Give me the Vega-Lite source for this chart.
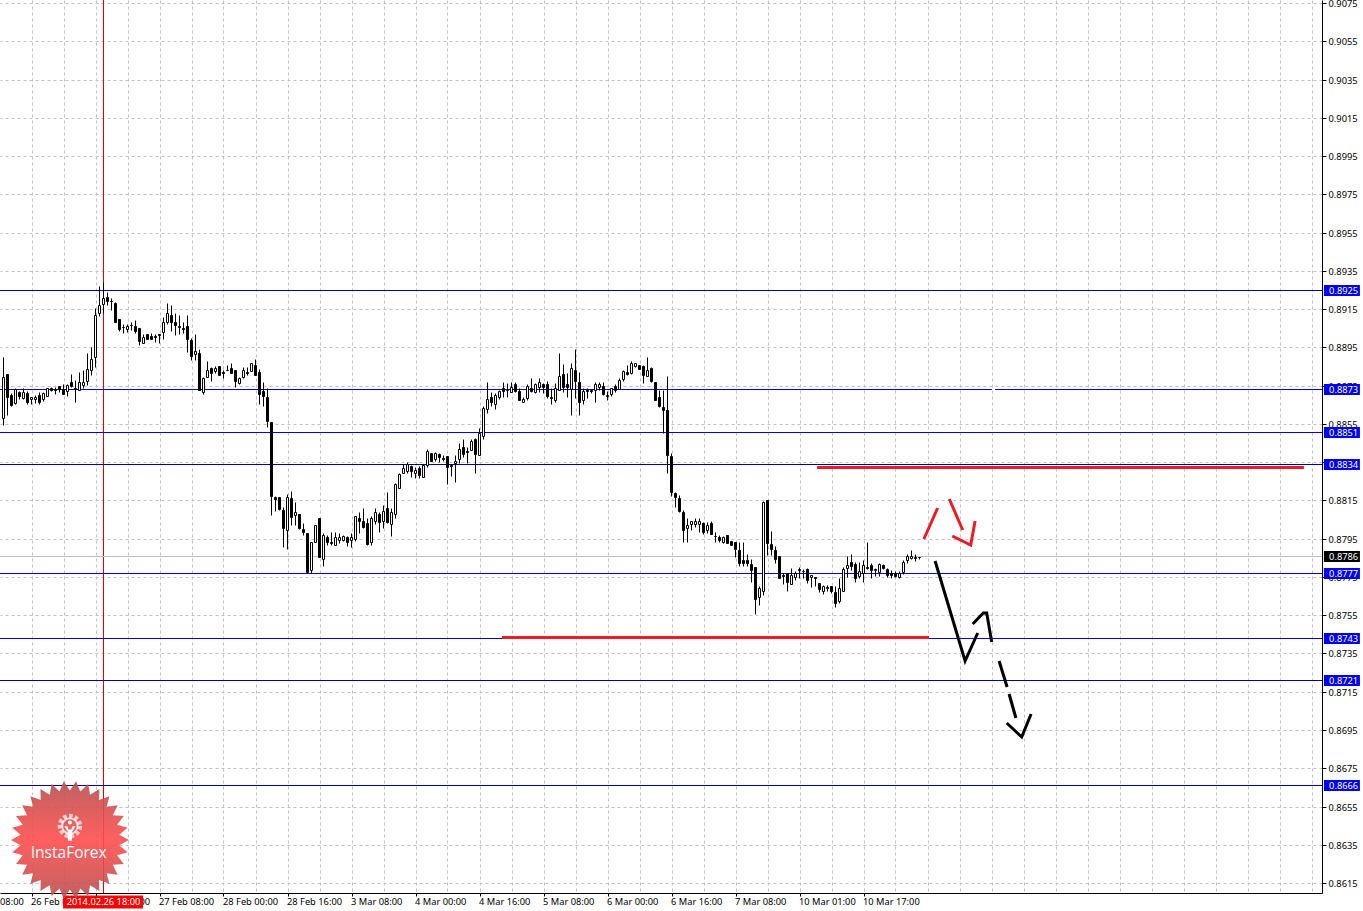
{"$schema":"https://vega.github.io/schema/vega-lite/v6.json","width":1322,"height":893,"autosize":{"type":"none"},"padding":{"left":0,"top":0,"right":41,"bottom":18},"background":"white","view":{"stroke":null},
"datasets":{
"levels":[{"price":0.8925,"from":-0.875,"to":329.625,"kind":"major"},{"price":0.8873,"from":-0.875,"to":247.1,"kind":"minor"},{"price":0.8873,"from":247.9,"to":329.625,"kind":"minor"},{"price":0.8851,"from":-0.875,"to":329.625,"kind":"minor"},{"price":0.8834,"from":-0.875,"to":329.625,"kind":"major"},{"price":0.8786,"from":-0.875,"to":329.625,"kind":"bid"},{"price":0.8777,"from":-0.875,"to":329.625,"kind":"minor"},{"price":0.8743,"from":-0.875,"to":329.625,"kind":"minor"},{"price":0.8721,"from":-0.875,"to":329.625,"kind":"major"},{"price":0.8666,"from":-0.875,"to":329.625,"kind":"major"}],
"tags":[{"price":0.8925,"tag":"0.8925"},{"price":0.8873,"tag":"0.8873"},{"price":0.8851,"tag":"0.8851"},{"price":0.8834,"tag":"0.8834"},{"price":0.8786,"tag":"0.8786"},{"price":0.8777,"tag":"0.8777"},{"price":0.8743,"tag":"0.8743"},{"price":0.8721,"tag":"0.8721"},{"price":0.8666,"tag":"0.8666"}],
"zones":[{"price":0.88325,"from":203.4,"to":325.1},{"price":0.87436,"from":124.6,"to":231.4}],
"sketch":[
{"seg":"r1","tone":"red","n":0,"bar":230.1,"price":0.87949},{"seg":"r1","tone":"red","n":1,"bar":233.55,"price":0.88111},
{"seg":"r2","tone":"red","n":0,"bar":236.45,"price":0.88156},{"seg":"r2","tone":"red","n":1,"bar":239.8,"price":0.87996},
{"seg":"r3","tone":"red","n":0,"bar":237.2,"price":0.87964},{"seg":"r3","tone":"red","n":1,"bar":241.8,"price":0.87917},{"seg":"r3","tone":"red","n":2,"bar":242.9,"price":0.88044},
{"seg":"b1","tone":"black","n":0,"bar":232.9,"price":0.87834},{"seg":"b1","tone":"black","n":1,"bar":240.4,"price":0.87311},{"seg":"b1","tone":"black","n":2,"bar":243.55,"price":0.87459},
{"seg":"b2","tone":"black","n":0,"bar":242.3,"price":0.87503},{"seg":"b2","tone":"black","n":1,"bar":244.95,"price":0.87563},{"seg":"b2","tone":"black","n":2,"bar":245.8,"price":0.87563},{"seg":"b2","tone":"black","n":3,"bar":247.05,"price":0.87412},
{"seg":"b3","tone":"black","n":0,"bar":248.9,"price":0.87311},{"seg":"b3","tone":"black","n":1,"bar":250.9,"price":0.87177},
{"seg":"b4","tone":"black","n":0,"bar":251.4,"price":0.87138},{"seg":"b4","tone":"black","n":1,"bar":253.1,"price":0.87011},
{"seg":"b5","tone":"black","n":0,"bar":250.8,"price":0.86985},{"seg":"b5","tone":"black","n":1,"bar":254.55,"price":0.86915},{"seg":"b5","tone":"black","n":2,"bar":256.9,"price":0.87034}],
"candles":[
{"bar":0,"open":0.88579,"high":0.88898,"low":0.88544,"close":0.88797},{"bar":1,"open":0.88811,"high":0.88811,"low":0.88596,"close":0.88689},{"bar":2,"open":0.88699,"high":0.88713,"low":0.88643,"close":0.88647},{"bar":3,"open":0.88657,"high":0.88736,"low":0.88654,"close":0.88731},{"bar":4,"open":0.88718,"high":0.88722,"low":0.88678,"close":0.88697},{"bar":5,"open":0.88683,"high":0.88736,"low":0.88678,"close":0.88718},{"bar":6,"open":0.8871,"high":0.88722,"low":0.88654,"close":0.88666},{"bar":7,"open":0.88678,"high":0.88692,"low":0.88654,"close":0.88689},{"bar":8,"open":0.88678,"high":0.88701,"low":0.88661,"close":0.88689},{"bar":9,"open":0.88699,"high":0.88718,"low":0.88654,"close":0.88666},
{"bar":10,"open":0.88678,"high":0.88718,"low":0.88671,"close":0.8871},{"bar":11,"open":0.88697,"high":0.88736,"low":0.88697,"close":0.88736},{"bar":12,"open":0.88736,"high":0.88744,"low":0.88722,"close":0.88727},{"bar":13,"open":0.88734,"high":0.88741,"low":0.88706,"close":0.88729},{"bar":14,"open":0.88746,"high":0.88748,"low":0.88718,"close":0.88732},{"bar":15,"open":0.88731,"high":0.88757,"low":0.88704,"close":0.88708},{"bar":16,"open":0.88722,"high":0.88758,"low":0.88697,"close":0.88755},{"bar":17,"open":0.88767,"high":0.88811,"low":0.88743,"close":0.88746},{"bar":18,"open":0.88736,"high":0.88779,"low":0.88666,"close":0.88732},{"bar":19,"open":0.88727,"high":0.88819,"low":0.88725,"close":0.88767},
{"bar":20,"open":0.88755,"high":0.88832,"low":0.88739,"close":0.88767},{"bar":21,"open":0.88776,"high":0.88919,"low":0.88753,"close":0.88839},{"bar":22,"open":0.8883,"high":0.8895,"low":0.88807,"close":0.88887},{"bar":23,"open":0.88898,"high":0.89154,"low":0.88849,"close":0.89117},{"bar":24,"open":0.89128,"high":0.89271,"low":0.89114,"close":0.8917},{"bar":25,"open":0.89178,"high":0.89293,"low":0.89131,"close":0.89206},{"bar":26,"open":0.89215,"high":0.89238,"low":0.89171,"close":0.89194},{"bar":27,"open":0.89194,"high":0.89206,"low":0.89145,"close":0.8919},{"bar":28,"open":0.89182,"high":0.89189,"low":0.89084,"close":0.89084},{"bar":29,"open":0.89098,"high":0.89098,"low":0.89035,"close":0.89046},
{"bar":30,"open":0.89058,"high":0.89072,"low":0.89027,"close":0.89055},{"bar":31,"open":0.89048,"high":0.89072,"low":0.89032,"close":0.8906},{"bar":32,"open":0.89069,"high":0.89081,"low":0.89041,"close":0.89065},{"bar":33,"open":0.89062,"high":0.89093,"low":0.89027,"close":0.89035},{"bar":34,"open":0.89049,"high":0.89049,"low":0.88964,"close":0.88983},{"bar":35,"open":0.88974,"high":0.89018,"low":0.88974,"close":0.89006},{"bar":36,"open":0.89018,"high":0.89018,"low":0.88994,"close":0.88995},{"bar":37,"open":0.89009,"high":0.89023,"low":0.88992,"close":0.88995},{"bar":38,"open":0.89009,"high":0.89018,"low":0.8898,"close":0.89006},{"bar":39,"open":0.89018,"high":0.89018,"low":0.88973,"close":0.89015},
{"bar":40,"open":0.89028,"high":0.8911,"low":0.88994,"close":0.89081},{"bar":41,"open":0.89082,"high":0.8918,"low":0.89072,"close":0.89128},{"bar":42,"open":0.89121,"high":0.89171,"low":0.89035,"close":0.89084},{"bar":43,"open":0.89081,"high":0.89128,"low":0.89015,"close":0.89069},{"bar":44,"open":0.89062,"high":0.89117,"low":0.89018,"close":0.89058},{"bar":45,"open":0.89051,"high":0.89082,"low":0.89027,"close":0.89048},{"bar":46,"open":0.89062,"high":0.89119,"low":0.88927,"close":0.88995},{"bar":47,"open":0.88988,"high":0.88997,"low":0.88884,"close":0.88905},{"bar":48,"open":0.88917,"high":0.8902,"low":0.88884,"close":0.88929},{"bar":49,"open":0.8892,"high":0.8894,"low":0.88727,"close":0.88727},
{"bar":50,"open":0.88718,"high":0.88793,"low":0.88706,"close":0.88788},{"bar":51,"open":0.88797,"high":0.88879,"low":0.88795,"close":0.8883},{"bar":52,"open":0.8884,"high":0.88849,"low":0.88774,"close":0.88818},{"bar":53,"open":0.88828,"high":0.88852,"low":0.88814,"close":0.88842},{"bar":54,"open":0.88851,"high":0.88852,"low":0.88805,"close":0.88805},{"bar":55,"open":0.88821,"high":0.88832,"low":0.88792,"close":0.88818},{"bar":56,"open":0.88833,"high":0.88858,"low":0.8883,"close":0.8883},{"bar":57,"open":0.8884,"high":0.88866,"low":0.88814,"close":0.88816},{"bar":58,"open":0.88832,"high":0.88832,"low":0.88744,"close":0.88776},{"bar":59,"open":0.88765,"high":0.88797,"low":0.88757,"close":0.88788},
{"bar":60,"open":0.88797,"high":0.88849,"low":0.88792,"close":0.8883},{"bar":61,"open":0.88819,"high":0.88846,"low":0.88805,"close":0.88816},{"bar":62,"open":0.88828,"high":0.8887,"low":0.88828,"close":0.88866},{"bar":63,"open":0.88858,"high":0.88889,"low":0.88805,"close":0.88805},{"bar":64,"open":0.88819,"high":0.88835,"low":0.88654,"close":0.88706},{"bar":65,"open":0.88724,"high":0.88767,"low":0.88643,"close":0.88697},{"bar":66,"open":0.88692,"high":0.88736,"low":0.88535,"close":0.88567},{"bar":67,"open":0.88558,"high":0.88558,"low":0.88074,"close":0.88173},{"bar":68,"open":0.88166,"high":0.88173,"low":0.88096,"close":0.88156},{"bar":69,"open":0.88166,"high":0.88169,"low":0.881,"close":0.88107},
{"bar":70,"open":0.881,"high":0.88117,"low":0.87905,"close":0.88006},{"bar":71,"open":0.87997,"high":0.88183,"low":0.87896,"close":0.88166},{"bar":72,"open":0.88163,"high":0.88199,"low":0.88021,"close":0.88065},{"bar":73,"open":0.88075,"high":0.8814,"low":0.88021,"close":0.88088},{"bar":74,"open":0.88079,"high":0.88079,"low":0.88002,"close":0.88006},{"bar":75,"open":0.88001,"high":0.8803,"low":0.87969,"close":0.87983},{"bar":76,"open":0.87978,"high":0.87981,"low":0.87774,"close":0.87774},{"bar":77,"open":0.87786,"high":0.87931,"low":0.87769,"close":0.87931},{"bar":78,"open":0.87934,"high":0.88021,"low":0.87931,"close":0.8802},{"bar":79,"open":0.88056,"high":0.88056,"low":0.87852,"close":0.87856},
{"bar":80,"open":0.87845,"high":0.87978,"low":0.87807,"close":0.87967},{"bar":81,"open":0.87957,"high":0.87969,"low":0.87917,"close":0.87933},{"bar":82,"open":0.87933,"high":0.87987,"low":0.87917,"close":0.87929},{"bar":83,"open":0.87919,"high":0.87987,"low":0.87917,"close":0.87957},{"bar":84,"open":0.87945,"high":0.87978,"low":0.87926,"close":0.87959},{"bar":85,"open":0.87944,"high":0.8797,"low":0.8794,"close":0.87964},{"bar":86,"open":0.87958,"high":0.87964,"low":0.87912,"close":0.87935},{"bar":87,"open":0.87944,"high":0.87978,"low":0.87909,"close":0.87958},{"bar":88,"open":0.87947,"high":0.88071,"low":0.8794,"close":0.88069},{"bar":89,"open":0.88059,"high":0.88092,"low":0.87978,"close":0.88045},
{"bar":90,"open":0.88041,"high":0.88109,"low":0.88005,"close":0.88013},{"bar":91,"open":0.88031,"high":0.88057,"low":0.87917,"close":0.87923},{"bar":92,"open":0.87935,"high":0.88069,"low":0.87917,"close":0.88057},{"bar":93,"open":0.88045,"high":0.88109,"low":0.88027,"close":0.8809},{"bar":94,"open":0.88078,"high":0.88092,"low":0.87987,"close":0.88039},{"bar":95,"open":0.88045,"high":0.88127,"low":0.88008,"close":0.88097},{"bar":96,"open":0.88109,"high":0.88196,"low":0.88034,"close":0.88039},{"bar":97,"open":0.88027,"high":0.88109,"low":0.87964,"close":0.8809},{"bar":98,"open":0.88078,"high":0.8824,"low":0.88057,"close":0.88235},{"bar":99,"open":0.88217,"high":0.88296,"low":0.88214,"close":0.88287},
{"bar":100,"open":0.88296,"high":0.88339,"low":0.88292,"close":0.88318},{"bar":101,"open":0.88306,"high":0.8835,"low":0.88292,"close":0.88339},{"bar":102,"open":0.8833,"high":0.88336,"low":0.88275,"close":0.88306},{"bar":103,"open":0.88296,"high":0.88323,"low":0.88266,"close":0.88308},{"bar":104,"open":0.88318,"high":0.8833,"low":0.88269,"close":0.88285},{"bar":105,"open":0.88275,"high":0.88339,"low":0.88275,"close":0.88336},{"bar":106,"open":0.88334,"high":0.88418,"low":0.88327,"close":0.88407},{"bar":107,"open":0.88397,"high":0.884,"low":0.88358,"close":0.88358},{"bar":108,"open":0.88369,"high":0.88405,"low":0.88358,"close":0.88397},{"bar":109,"open":0.88391,"high":0.88397,"low":0.88353,"close":0.88379},
{"bar":110,"open":0.88372,"high":0.88388,"low":0.88358,"close":0.88369},{"bar":111,"open":0.88381,"high":0.88383,"low":0.88236,"close":0.88327},{"bar":112,"open":0.88334,"high":0.88341,"low":0.88278,"close":0.8833},{"bar":113,"open":0.88348,"high":0.88388,"low":0.88249,"close":0.88358},{"bar":114,"open":0.88369,"high":0.88449,"low":0.88344,"close":0.88418},{"bar":115,"open":0.8843,"high":0.88472,"low":0.88379,"close":0.88393},{"bar":116,"open":0.88409,"high":0.88428,"low":0.88348,"close":0.88405},{"bar":117,"open":0.88416,"high":0.8847,"low":0.88412,"close":0.88459},{"bar":118,"open":0.8847,"high":0.88475,"low":0.88296,"close":0.88393},{"bar":119,"open":0.8839,"high":0.88527,"low":0.8839,"close":0.88501},
{"bar":120,"open":0.88489,"high":0.88646,"low":0.8847,"close":0.88635},{"bar":121,"open":0.88628,"high":0.88768,"low":0.88609,"close":0.88679},{"bar":122,"open":0.88689,"high":0.88719,"low":0.88646,"close":0.88667},{"bar":123,"open":0.88656,"high":0.8871,"low":0.88627,"close":0.887},{"bar":124,"open":0.88689,"high":0.88728,"low":0.88682,"close":0.88724},{"bar":125,"open":0.88736,"high":0.88768,"low":0.88693,"close":0.88724},{"bar":126,"open":0.88729,"high":0.88763,"low":0.88693,"close":0.88726},{"bar":127,"open":0.88719,"high":0.88768,"low":0.88719,"close":0.88743},{"bar":128,"open":0.88757,"high":0.88768,"low":0.88719,"close":0.88724},{"bar":129,"open":0.88722,"high":0.88736,"low":0.88675,"close":0.88677},
{"bar":130,"open":0.88667,"high":0.88693,"low":0.88665,"close":0.88679},{"bar":131,"open":0.88688,"high":0.88757,"low":0.88675,"close":0.88747},{"bar":132,"open":0.88736,"high":0.88789,"low":0.88719,"close":0.88724},{"bar":133,"open":0.88719,"high":0.88763,"low":0.8871,"close":0.88757},{"bar":134,"open":0.88745,"high":0.88789,"low":0.88719,"close":0.88768},{"bar":135,"open":0.88757,"high":0.88763,"low":0.8871,"close":0.88745},{"bar":136,"open":0.88759,"high":0.88776,"low":0.88684,"close":0.88698},{"bar":137,"open":0.88689,"high":0.88736,"low":0.88654,"close":0.88686},{"bar":138,"open":0.88677,"high":0.88763,"low":0.88663,"close":0.88736},{"bar":139,"open":0.88728,"high":0.88919,"low":0.88728,"close":0.88801},
{"bar":140,"open":0.88811,"high":0.88864,"low":0.88719,"close":0.88745},{"bar":141,"open":0.88757,"high":0.88815,"low":0.88689,"close":0.88745},{"bar":142,"open":0.88735,"high":0.88867,"low":0.88597,"close":0.88841},{"bar":143,"open":0.88832,"high":0.88942,"low":0.88684,"close":0.88776},{"bar":144,"open":0.88768,"high":0.8882,"low":0.88597,"close":0.88667},{"bar":145,"open":0.88677,"high":0.88736,"low":0.88654,"close":0.88722},{"bar":146,"open":0.88726,"high":0.88736,"low":0.88684,"close":0.88722},{"bar":147,"open":0.88726,"high":0.88731,"low":0.88714,"close":0.88722},{"bar":148,"open":0.88728,"high":0.88768,"low":0.88663,"close":0.88757},{"bar":149,"open":0.88745,"high":0.88771,"low":0.88728,"close":0.88757},
{"bar":150,"open":0.88749,"high":0.88768,"low":0.88702,"close":0.88705},{"bar":151,"open":0.887,"high":0.88724,"low":0.88675,"close":0.88696},{"bar":152,"open":0.88707,"high":0.8874,"low":0.88698,"close":0.88736},{"bar":153,"open":0.88747,"high":0.88757,"low":0.88719,"close":0.88726},{"bar":154,"open":0.88733,"high":0.88789,"low":0.88731,"close":0.88778},{"bar":155,"open":0.88787,"high":0.88832,"low":0.88776,"close":0.88829},{"bar":156,"open":0.8882,"high":0.88858,"low":0.88806,"close":0.8881},{"bar":157,"open":0.88818,"high":0.88879,"low":0.8881,"close":0.88867},{"bar":158,"open":0.88855,"high":0.88871,"low":0.88846,"close":0.88867},{"bar":159,"open":0.88858,"high":0.88858,"low":0.88836,"close":0.88837},
{"bar":160,"open":0.88853,"high":0.88858,"low":0.88763,"close":0.88806},{"bar":161,"open":0.88803,"high":0.88898,"low":0.88801,"close":0.88832},{"bar":162,"open":0.88841,"high":0.88846,"low":0.88771,"close":0.88775},{"bar":163,"open":0.88768,"high":0.88768,"low":0.88675,"close":0.88677},{"bar":164,"open":0.88689,"high":0.88728,"low":0.88641,"close":0.88646},{"bar":165,"open":0.88637,"high":0.88728,"low":0.88501,"close":0.88625},{"bar":166,"open":0.88623,"high":0.88801,"low":0.88296,"close":0.88388},{"bar":167,"open":0.88383,"high":0.88397,"low":0.88174,"close":0.88195},{"bar":168,"open":0.88191,"high":0.88196,"low":0.88118,"close":0.88166},{"bar":169,"open":0.88161,"high":0.88177,"low":0.8809,"close":0.88097},
{"bar":170,"open":0.8809,"high":0.881,"low":0.87935,"close":0.87996},{"bar":171,"open":0.88008,"high":0.88057,"low":0.87935,"close":0.88022},{"bar":172,"open":0.88029,"high":0.88041,"low":0.87996,"close":0.88041},{"bar":173,"open":0.88029,"high":0.88057,"low":0.88013,"close":0.88043},{"bar":174,"open":0.88029,"high":0.88057,"low":0.87987,"close":0.88044},{"bar":175,"open":0.88032,"high":0.88039,"low":0.87975,"close":0.87987},{"bar":176,"open":0.87996,"high":0.88039,"low":0.87978,"close":0.88022},{"bar":177,"open":0.88032,"high":0.88043,"low":0.87973,"close":0.87976},{"bar":178,"open":0.87966,"high":0.87987,"low":0.87935,"close":0.87963},{"bar":179,"open":0.87959,"high":0.8797,"low":0.87935,"close":0.87942},
{"bar":180,"open":0.87935,"high":0.87964,"low":0.87929,"close":0.87959},{"bar":181,"open":0.8797,"high":0.8797,"low":0.87928,"close":0.87928},{"bar":182,"open":0.87938,"high":0.87938,"low":0.87917,"close":0.87917},{"bar":183,"open":0.87933,"high":0.87933,"low":0.87856,"close":0.87898},{"bar":184,"open":0.87891,"high":0.87933,"low":0.87807,"close":0.87823},{"bar":185,"open":0.87841,"high":0.87933,"low":0.87807,"close":0.87823},{"bar":186,"open":0.87841,"high":0.8787,"low":0.87807,"close":0.87823},{"bar":187,"open":0.87818,"high":0.87842,"low":0.87726,"close":0.87787},{"bar":188,"open":0.87801,"high":0.87801,"low":0.87557,"close":0.87637},{"bar":189,"open":0.87647,"high":0.87703,"low":0.87604,"close":0.87691},
{"bar":190,"open":0.87679,"high":0.88149,"low":0.87656,"close":0.8814},{"bar":191,"open":0.88152,"high":0.88152,"low":0.87865,"close":0.87929},{"bar":192,"open":0.87921,"high":0.8799,"low":0.87865,"close":0.87896},{"bar":193,"open":0.87891,"high":0.87912,"low":0.87821,"close":0.87846},{"bar":194,"open":0.87858,"high":0.87858,"low":0.87747,"close":0.87747},{"bar":195,"open":0.8776,"high":0.87769,"low":0.87713,"close":0.87757},{"bar":196,"open":0.87769,"high":0.87773,"low":0.87677,"close":0.87726},{"bar":197,"open":0.87715,"high":0.87795,"low":0.87715,"close":0.87759},{"bar":198,"open":0.87748,"high":0.87781,"low":0.87734,"close":0.87769},{"bar":199,"open":0.87792,"high":0.87801,"low":0.87743,"close":0.87788},
{"bar":200,"open":0.87783,"high":0.8779,"low":0.87743,"close":0.8778},{"bar":201,"open":0.8779,"high":0.87795,"low":0.87717,"close":0.87734},{"bar":202,"open":0.87748,"high":0.8776,"low":0.87699,"close":0.87759},{"bar":203,"open":0.8775,"high":0.87752,"low":0.87703,"close":0.87745},{"bar":204,"open":0.87717,"high":0.87719,"low":0.87673,"close":0.87689},{"bar":205,"open":0.87675,"high":0.87708,"low":0.87661,"close":0.87703},{"bar":206,"open":0.87698,"high":0.87708,"low":0.87679,"close":0.87694},{"bar":207,"open":0.87701,"high":0.87703,"low":0.87665,"close":0.87679},{"bar":208,"open":0.8767,"high":0.87703,"low":0.87593,"close":0.87616},{"bar":209,"open":0.87626,"high":0.87743,"low":0.87616,"close":0.87691},
{"bar":210,"open":0.87679,"high":0.87804,"low":0.87679,"close":0.8779},{"bar":211,"open":0.87799,"high":0.8786,"low":0.87752,"close":0.87814},{"bar":212,"open":0.87827,"high":0.8787,"low":0.87787,"close":0.87809},{"bar":213,"open":0.87816,"high":0.8783,"low":0.87726,"close":0.87747},{"bar":214,"open":0.87755,"high":0.8783,"low":0.87743,"close":0.8778},{"bar":215,"open":0.87769,"high":0.87839,"low":0.87726,"close":0.87813},{"bar":216,"open":0.87801,"high":0.87933,"low":0.8779,"close":0.87797},{"bar":217,"open":0.87811,"high":0.87821,"low":0.87747,"close":0.87787},{"bar":218,"open":0.87787,"high":0.87795,"low":0.87755,"close":0.8779},{"bar":219,"open":0.87778,"high":0.87821,"low":0.87755,"close":0.87816},
{"bar":220,"open":0.87813,"high":0.87818,"low":0.8779,"close":0.87799},{"bar":221,"open":0.8779,"high":0.87795,"low":0.87748,"close":0.87759},{"bar":222,"open":0.87773,"high":0.87787,"low":0.87747,"close":0.87759},{"bar":223,"open":0.87771,"high":0.87781,"low":0.87748,"close":0.87755},{"bar":224,"open":0.87748,"high":0.87781,"low":0.87747,"close":0.87769},{"bar":225,"open":0.87778,"high":0.87839,"low":0.87766,"close":0.87827},{"bar":226,"open":0.87837,"high":0.8787,"low":0.87825,"close":0.87858},{"bar":227,"open":0.87848,"high":0.87891,"low":0.87842,"close":0.87858},{"bar":228,"open":0.87853,"high":0.8787,"low":0.87835,"close":0.87849},{"bar":229,"open":0.87856,"high":0.87856,"low":0.87842,"close":0.87853}
]},
"layer":[
{"data":{"values":[{"bar":25}]},"mark":{"type":"rule","strokeWidth":1,"color":"#E00000"},"encoding":{"x":{"field":"bar","type":"quantitative","scale":{"domain":[-0.875,329.625],"nice":false,"zero":false,"padding":0},"axis":{"title":null,"orient":"bottom","tickCount":100,"values":[7,15,23,31,39,47,55,63,71,79,87,95,103,111,119,127,135,143,151,159,167,175,183,191,199,207,215,223,231,239,247,255,263,271,279,287,295,303,311,319,327],"labelExpr":"{'7':'26 Feb 00:00','23':'26 Feb 16:00','39':'27 Feb 08:00','55':'28 Feb 00:00','71':'28 Feb 16:00','87':'3 Mar 08:00','103':'4 Mar 00:00','119':'4 Mar 16:00','135':'5 Mar 08:00','151':'6 Mar 00:00','167':'6 Mar 16:00','183':'7 Mar 08:00','199':'10 Mar 01:00','215':'10 Mar 17:00'}[''+datum.value]||''","labelAlign":"left","labelBaseline":"top","labelFont":"Noto Sans","labelFontSize":9.3,"labelColor":"#000","labelPadding":1,"labelOverlap":false,"labelBound":false,"labelFlush":false,"labelOffset":-1,"tickSize":3,"tickColor":"#000","tickOpacity":{"condition":{"test":"(datum.value-7)%16==0&&datum.value<=215","value":1},"value":0},"domainColor":"#000","grid":true,"gridColor":"#c0c0c0","gridDash":[3,3]}}}},
{"data":{"name":"levels"},"mark":{"type":"rule","strokeWidth":1,"yOffset":0.5,"y2Offset":0.5},"encoding":{
"x":{"field":"from","type":"quantitative","scale":{"domain":[-0.875,329.625],"nice":false,"zero":false,"padding":0},"axis":{"title":null}},
"x2":{"field":"to"},
"y":{"field":"price","type":"quantitative","scale":{"domain":[0.86098,0.90766],"nice":false,"zero":false,"round":true},"axis":{"title":null,"orient":"right","tickCount":100,"values":[0.8615,0.8635,0.8655,0.8675,0.8695,0.8715,0.8735,0.8755,0.8775,0.8795,0.8815,0.8835,0.8855,0.8875,0.8895,0.8915,0.8935,0.8955,0.8975,0.8995,0.9015,0.9035,0.9055,0.9075],"format":".4f","labelFont":"Noto Sans","labelFontSize":9.3,"labelColor":"#000","labelPadding":2,"labelOverlap":false,"labelBound":false,"labelFlush":false,"tickSize":4,"tickColor":"#000","domainColor":"#000","grid":true,"gridColor":"#c0c0c0","gridDash":[3,3]}},
"color":{"field":"kind","type":"nominal","legend":null,"scale":{"domain":["major","minor","bid","red","black"],"range":["#0000A8","#0000F0","#C0C0C0","#ED1C24","#000000"]}}}},
{"data":{"name":"candles"},"mark":{"type":"rule","strokeWidth":1,"color":"#000","yOffset":0.5,"y2Offset":0.5},"encoding":{"x":{"field":"bar","type":"quantitative","scale":{"domain":[-0.875,329.625],"nice":false,"zero":false,"padding":0},"axis":{"title":null}},"y":{"field":"low","type":"quantitative","scale":{"domain":[0.86098,0.90766],"nice":false,"zero":false,"round":true},"axis":{"title":null}},"y2":{"field":"high"}}},
{"data":{"name":"candles"},"mark":{"type":"bar","width":2,"orient":"vertical","stroke":"#000","strokeWidth":1,"yOffset":0.5,"y2Offset":0.5},"encoding":{"x":{"field":"bar","type":"quantitative","scale":{"domain":[-0.875,329.625],"nice":false,"zero":false,"padding":0},"axis":{"title":null}},"y":{"field":"open","type":"quantitative","scale":{"domain":[0.86098,0.90766],"nice":false,"zero":false,"round":true},"axis":{"title":null}},"y2":{"field":"close"},"fill":{"condition":{"test":"datum.close>datum.open","value":"#ffffff"},"value":"#000000"}}},
{"data":{"name":"zones"},"mark":{"type":"rule","strokeWidth":3,"color":"#ED1C24","yOffset":0.5,"y2Offset":0.5},"encoding":{"x":{"field":"from","type":"quantitative","scale":{"domain":[-0.875,329.625],"nice":false,"zero":false,"padding":0},"axis":{"title":null}},"x2":{"field":"to"},"y":{"field":"price","type":"quantitative","scale":{"domain":[0.86098,0.90766],"nice":false,"zero":false,"round":true},"axis":{"title":null}}}},
{"data":{"name":"sketch"},"mark":{"type":"line","strokeWidth":3,"interpolate":"linear"},"encoding":{"x":{"field":"bar","type":"quantitative","scale":{"domain":[-0.875,329.625],"nice":false,"zero":false,"padding":0},"axis":{"title":null}},"y":{"field":"price","type":"quantitative","scale":{"domain":[0.86098,0.90766],"nice":false,"zero":false,"round":true},"axis":{"title":null}},"detail":{"field":"seg"},"order":{"field":"n"},"color":{"field":"tone","type":"nominal","legend":null,"scale":{"domain":["major","minor","bid","red","black"],"range":["#0000A8","#0000F0","#C0C0C0","#ED1C24","#000000"]}}}},
{"data":{"name":"tags"},"mark":{"type":"rule","strokeWidth":11,"yOffset":0.5,"y2Offset":0.5},"encoding":{"x":{"datum":330.1,"scale":{"domain":[-0.875,329.625],"nice":false,"zero":false,"padding":0},"axis":{"title":null}},"x2":{"datum":339.1},"y":{"field":"price","type":"quantitative","scale":{"domain":[0.86098,0.90766],"nice":false,"zero":false,"round":true},"axis":{"title":null}},"stroke":{"condition":{"test":"datum.tag=='0.8786'","value":"#000000"},"value":"#0000F0"}}},
{"data":{"name":"tags"},"mark":{"type":"text","align":"left","baseline":"middle","color":"#fff","font":"Noto Sans","fontSize":9.3,"yOffset":0.5},"encoding":{"x":{"datum":331.4,"scale":{"domain":[-0.875,329.625],"nice":false,"zero":false,"padding":0},"axis":{"title":null}},"y":{"field":"price","type":"quantitative","scale":{"domain":[0.86098,0.90766],"nice":false,"zero":false,"round":true},"axis":{"title":null}},"text":{"field":"tag"}}},
{"data":{"values":[{"a":14.9,"b":34.9,"p":0.8605}]},"mark":{"type":"rule","strokeWidth":13,"color":"#FF0000"},"encoding":{"x":{"field":"a","type":"quantitative","scale":{"domain":[-0.875,329.625],"nice":false,"zero":false,"padding":0},"axis":{"title":null}},"x2":{"field":"b"},"y":{"field":"p","type":"quantitative","scale":{"domain":[0.86098,0.90766],"nice":false,"zero":false,"round":true},"axis":{"title":null}}}},
{"data":{"values":[{"bar":25,"p":0.8605,"t":"2014.02.26 18:00"}]},"mark":{"type":"text","align":"center","baseline":"middle","color":"#fff","font":"Noto Sans","fontSize":9.3},"encoding":{"x":{"field":"bar","type":"quantitative","scale":{"domain":[-0.875,329.625],"nice":false,"zero":false,"padding":0},"axis":{"title":null}},"y":{"field":"p","type":"quantitative","scale":{"domain":[0.86098,0.90766],"nice":false,"zero":false,"round":true},"axis":{"title":null}},"text":{"field":"t"}}},
{"data":{"values":[{"bar":-0.875,"p":0.8605,"t":"08:00"}]},"mark":{"type":"text","align":"left","baseline":"middle","color":"#000","font":"Noto Sans","fontSize":9.3},"encoding":{"x":{"field":"bar","type":"quantitative","scale":{"domain":[-0.875,329.625],"nice":false,"zero":false,"padding":0},"axis":{"title":null}},"y":{"field":"p","type":"quantitative","scale":{"domain":[0.86098,0.90766],"nice":false,"zero":false,"round":true},"axis":{"title":null}},"text":{"field":"t"}}},
{"data":{"values":[{"bar":16.6,"p":0.86375}]},"mark":{"type":"point","filled":true,"opacity":0.9,"size":13924,"fill":{"x1":0,"y1":0,"x2":0,"y2":1,"gradient":"linear","stops":[{"offset":0,"color":"#B85050"},{"offset":0.5,"color":"#FF4D4D"},{"offset":1,"color":"#B85050"}]},"shape":"M1 0L.835 .088L.978 .208L.799 .26L.914 .407L.727 .42L.809 .588L.624 .562L.669 .743L.494 .68L.5 .866L.342 .767L.309 .951L.175 .822L.105 .995L0 .84L-.105 .995L-.175 .822L-.309 .951L-.342 .767L-.5 .866L-.494 .68L-.669 .743L-.624 .562L-.809 .588L-.727 .42L-.914 .407L-.799 .26L-.978 .208L-.835 .088L-1 0L-.835 -.088L-.978 -.208L-.799 -.26L-.914 -.407L-.727 -.42L-.809 -.588L-.624 -.562L-.669 -.743L-.494 -.68L-.5 -.866L-.342 -.767L-.309 -.951L-.175 -.822L-.105 -.995L0 -.84L.105 -.995L.175 -.822L.309 -.951L.342 -.767L.5 -.866L.494 -.68L.669 -.743L.624 -.562L.809 -.588L.727 -.42L.914 -.407L.799 -.26L.978 -.208L.835 -.088Z"},"encoding":{"x":{"field":"bar","type":"quantitative","scale":{"domain":[-0.875,329.625],"nice":false,"zero":false,"padding":0},"axis":{"title":null}},"y":{"field":"p","type":"quantitative","scale":{"domain":[0.86098,0.90766],"nice":false,"zero":false,"round":true},"axis":{"title":null}}}},
{"data":{"values":[{"bar":16.6,"p":0.86447}]},"mark":{"type":"point","filled":false,"stroke":"#fff","strokeWidth":5,"strokeDash":[3.4,2.2],"size":380,"shape":"circle"},"encoding":{"x":{"field":"bar","type":"quantitative","scale":{"domain":[-0.875,329.625],"nice":false,"zero":false,"padding":0},"axis":{"title":null}},"y":{"field":"p","type":"quantitative","scale":{"domain":[0.86098,0.90766],"nice":false,"zero":false,"round":true},"axis":{"title":null}}}},
{"data":{"values":[{"bar":16.6,"p":0.86447}]},"mark":{"type":"point","filled":false,"stroke":"#fff","strokeWidth":2,"size":240,"shape":"circle"},"encoding":{"x":{"field":"bar","type":"quantitative","scale":{"domain":[-0.875,329.625],"nice":false,"zero":false,"padding":0},"axis":{"title":null}},"y":{"field":"p","type":"quantitative","scale":{"domain":[0.86098,0.90766],"nice":false,"zero":false,"round":true},"axis":{"title":null}}}},
{"data":{"values":[{"bar":16.6,"p":0.86427}]},"mark":{"type":"point","filled":true,"fill":"#fff","opacity":1,"size":625,"shape":"M-.16 -.6A.16 .16 0 1 1 .16 -.6A.16 .16 0 1 1 -.16 -.6ZM-.45 -.3L-.2 -.3L-.12 -.05L.12 -.05L.2 -.3L.45 -.3L.16 .15L.16 .85L-.16 .85L-.16 .15Z"},"encoding":{"x":{"field":"bar","type":"quantitative","scale":{"domain":[-0.875,329.625],"nice":false,"zero":false,"padding":0},"axis":{"title":null}},"y":{"field":"p","type":"quantitative","scale":{"domain":[0.86098,0.90766],"nice":false,"zero":false,"round":true},"axis":{"title":null}}}},
{"data":{"values":[{"bar":16.3,"p":0.86307,"t":"InstaForex"}]},"mark":{"type":"text","align":"center","baseline":"middle","color":"#fff","font":"Open Sans","fontSize":15.5},"encoding":{"x":{"field":"bar","type":"quantitative","scale":{"domain":[-0.875,329.625],"nice":false,"zero":false,"padding":0},"axis":{"title":null}},"y":{"field":"p","type":"quantitative","scale":{"domain":[0.86098,0.90766],"nice":false,"zero":false,"round":true},"axis":{"title":null}},"text":{"field":"t"}}}
]}
